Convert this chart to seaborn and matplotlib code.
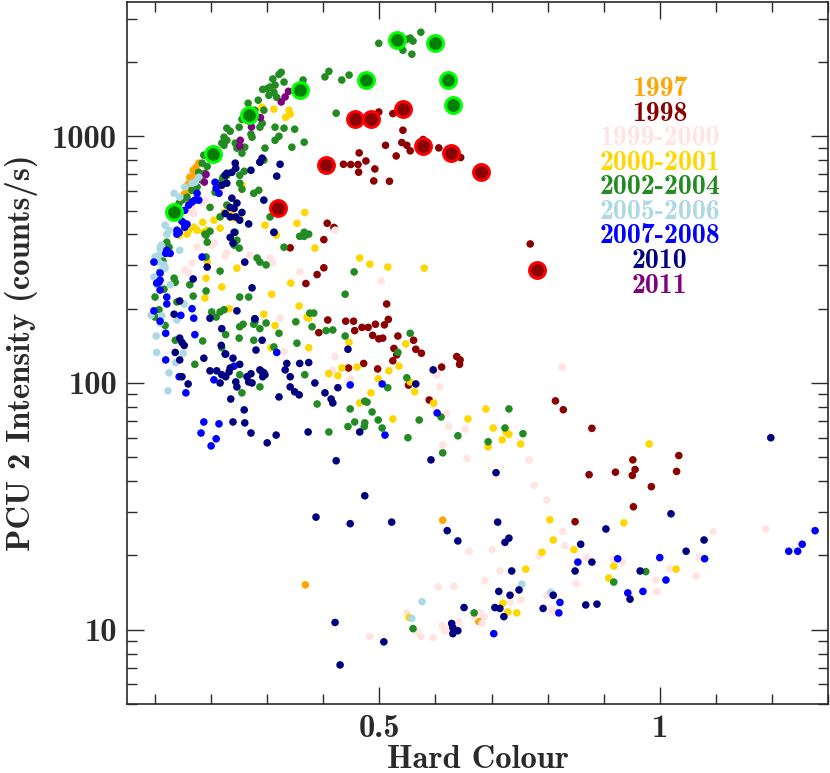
import numpy as np
import pandas as pd
import matplotlib
matplotlib.use('Agg')
import matplotlib.pyplot as plt
import matplotlib.ticker as mticker
import seaborn as sns

# ---- data: (hard colour, PCU2 intensity) ----
periods = ['1997', '1998', '1999-2000', '2000-2001', '2002-2004',
           '2005-2006', '2007-2008', '2010', '2011']
colours = ['orange', 'darkred', 'mistyrose', 'gold', 'forestgreen',
           'lightblue', 'blue', 'navy', 'purple']

hc_1997 = [0.178, 0.173, 0.168, 0.171, 0.162, 0.166, 0.159, 0.155, 0.161, 0.152, 0.157,
           0.613, 0.368, 0.677]
in_1997 = [778, 748, 728, 702, 682, 657, 639, 616, 598, 582, 555,
           27.8, 15.2, 10.8]

hc_1998 = [0.436, 0.449, 0.462, 0.476, 0.464, 0.463, 0.407, 0.419, 0.401,
           0.499, 0.524, 0.542, 0.511, 0.540, 0.549, 0.555, 0.530, 0.606, 0.645, 0.492,
           0.490, 0.518, 0.578,
           0.341, 0.401, 0.389, 0.369, 0.408, 0.440, 0.454, 0.456, 0.469, 0.392, 0.445, 0.472,
           0.769, 0.513, 0.516, 0.480, 0.493, 0.509, 0.488, 0.499, 0.506, 0.533, 0.561,
           0.526, 0.531, 0.565, 0.575, 0.552, 0.524, 0.497, 0.611, 0.638, 0.644, 0.643,
           0.589, 0.814, 0.828, 0.879,
           1.034, 1.030, 0.952, 0.956, 0.951, 0.921, 0.874, 0.985, 0.953, 0.849]
in_1998 = [770, 768, 768, 794, 856, 715, 444, 427, 381,
           1254, 1235, 1058, 919, 943, 919, 873, 832, 897, 820, 737,
           659, 657, 970,
           353, 293, 275, 253, 180, 178, 178, 163, 168, 160, 115, 120,
           366, 209, 181, 168, 173, 172, 156, 151, 152, 155, 149,
           138, 130, 137, 132, 98, 123, 114, 116, 128, 124, 119,
           85.3, 84.6, 77.9, 65.5,
           50.8, 43.8, 48.8, 44.6, 42.2, 43.5, 42.5, 38.0, 31.5, 27.4]

hc_1999 = [0.210, 0.219, 0.189, 0.184, 0.166, 0.162, 0.169, 0.205, 0.228, 0.269,
           0.305, 0.259, 0.175, 0.160, 0.201, 0.225, 0.310, 0.358, 0.166, 0.153,
           0.323, 0.330, 0.421, 0.417, 0.449, 0.410, 0.421, 0.503, 0.603, 0.608,
           0.596, 0.619, 0.624, 0.653, 0.613, 0.656, 0.767, 0.826, 0.776, 0.799,
           0.827, 0.831, 0.785, 0.870, 0.918, 0.933, 0.733, 0.688, 0.701, 0.715,
           0.752, 0.799, 0.811, 0.808, 0.813, 0.851, 0.993, 0.995, 1.018, 1.065,
           1.070, 1.095, 1.189, 0.679, 0.687, 0.683, 0.660, 0.605, 0.633, 0.549,
           0.567, 0.574, 0.612, 0.617, 0.626, 0.596, 0.483, 0.642, 0.669]
in_1999 = [623, 604, 551, 536, 510, 491, 486, 369, 338, 330,
           321, 306, 355, 279, 362, 327, 306, 282, 306, 287,
           183, 134, 128, 113, 104, 110, 416, 259, 108, 96.4,
           81.5, 75.0, 66.6, 65.1, 56.1, 49.3, 48.8, 116, 38.5, 33.6,
           25.0, 21.9, 19.9, 19.6, 19.4, 18.8, 12.9, 15.8, 21.1, 17.3,
           13.2, 13.8, 13.7, 12.0, 11.7, 15.4, 15.9, 14.3, 17.7, 16.5,
           19.6, 25.0, 25.6, 11.7, 11.3, 10.6, 20.8, 14.9, 15.0, 11.7,
           9.83, 9.39, 10.4, 9.91, 10.2, 9.30, 9.39, 10.8, 11.3]

hc_2000 = [0.291, 0.312, 0.339, 0.341, 0.333, 0.255, 0.223, 0.205, 0.185, 0.169,
           0.175, 0.153, 0.143, 0.187, 0.367, 0.353, 0.296, 0.237, 0.251, 0.234,
           0.241, 0.160, 0.157, 0.143, 0.216, 0.193, 0.316, 0.191, 0.246, 0.219,
           0.193, 0.385, 0.465, 0.189, 0.308, 0.342, 0.357, 0.371, 0.374, 0.294,
           0.232, 0.314, 0.307, 0.374, 0.446, 0.433, 0.460, 0.426, 0.410, 0.465,
           0.483, 0.515, 0.580, 0.547, 0.535, 0.517, 0.498, 0.555, 0.563, 0.485,
           0.597, 0.524, 0.658, 0.690, 0.703, 0.719, 0.726, 0.731, 0.694, 0.752,
           0.981, 0.804, 0.810, 0.790, 0.847, 0.936, 0.761, 0.918, 0.909, 1.029,
           0.720, 0.729, 0.745, 0.553]
in_2000 = [1311, 1287, 1275, 1229, 1194, 633, 491, 457, 448, 428,
           416, 424, 408, 408, 491, 444, 436, 501, 466, 491,
           466, 416, 401, 397, 424, 416, 397, 266, 292, 245,
           309, 352, 321, 221, 229, 254, 205, 185, 183, 190,
           200, 171, 139, 139, 146, 115, 116, 107, 109, 83.0,
           303, 295, 292, 144, 117, 112, 104, 101, 92.1, 91.2,
           83.0, 71.5, 71.5, 78.5, 65.7, 58.8, 63.3, 61.9, 55.1, 56.6,
           56.6, 27.9, 23.1, 20.6, 21.1, 27.1, 17.6, 18.1, 16.2, 17.6,
           12.8, 11.8, 11.7, 11.2]

hc_2002 = [0.325, 0.321, 0.310, 0.330, 0.314, 0.305, 0.300, 0.292, 0.312, 0.303,
           0.317, 0.284, 0.364, 0.360, 0.410, 0.403, 0.433, 0.446, 0.423, 0.266,
           0.278, 0.294, 0.278, 0.255, 0.250, 0.228, 0.234, 0.291, 0.287, 0.314,
           0.330, 0.321, 0.314, 0.349, 0.271, 0.273, 0.223, 0.228, 0.219, 0.243,
           0.246, 0.260, 0.255, 0.296, 0.344, 0.366, 0.294, 0.287, 0.193, 0.189,
           0.184, 0.175, 0.166, 0.157, 0.148, 0.143, 0.259, 0.251, 0.221, 0.219,
           0.255, 0.285, 0.276, 0.198, 0.228, 0.305, 0.312, 0.358, 0.366,
           0.191, 0.198, 0.243, 0.241, 0.330, 0.366, 0.374, 0.287, 0.298, 0.216,
           0.191, 0.162, 0.191, 0.168, 0.251, 0.267, 0.201, 0.209, 0.216, 0.223,
           0.251, 0.257, 0.276, 0.278, 0.226, 0.250, 0.287, 0.298, 0.321, 0.351,
           0.376, 0.383, 0.380, 0.405, 0.417, 0.439, 0.353, 0.276, 0.312, 0.185,
           0.219, 0.136, 0.171, 0.251, 0.255, 0.287, 0.367, 0.389, 0.410, 0.444,
           0.456, 0.474, 0.473, 0.448, 0.474, 0.439, 0.455,
           0.121, 0.125, 0.114, 0.109, 0.134, 0.136, 0.116, 0.100, 0.139, 0.107,
           0.100, 0.118,
           0.555, 0.533, 0.549, 0.515, 0.478, 0.487, 0.498, 0.505, 0.551, 0.571,
           0.610, 0.613, 0.640, 0.724, 0.731, 0.756, 0.694, 0.975, 0.918, 0.560,
           0.669,
           0.499, 0.555, 0.560, 0.549, 0.574, 0.542, 0.558,
           0.187, 0.184, 0.178, 0.223, 0.228, 0.225, 0.207, 0.216, 0.189, 0.193,
           0.246, 0.282, 0.250, 0.251]
in_2002 = [1815, 1780, 1706, 1658, 1612, 1583, 1560, 1548, 1506, 1465,
           1438, 1400, 1690, 1612, 1833, 1740, 1690, 1770, 1240, 1361,
           1275, 1275, 1204, 1171, 1088, 1078, 1048, 1128, 1088, 1088,
           1078, 1000, 963, 1068, 1020, 991, 991, 963, 938, 938,
           895, 903, 854, 895, 903, 946, 800, 785, 755, 708,
           663, 623, 604, 566, 551, 536, 721, 695, 682, 657,
           610, 604, 587, 515, 526, 471, 408, 393, 408,
           397, 412, 408, 362, 355, 393, 401, 309, 301, 284,
           324, 250, 236, 225, 223, 223, 194, 185, 194, 198,
           169, 173, 173, 177, 157, 152, 166, 175, 159, 177,
           192, 192, 169, 163, 164, 155, 145, 149, 140, 148,
           139, 149, 119, 108, 91.2, 96.4, 108, 82.2, 63.3, 66.6,
           69.5, 68.9, 66.6, 78.5, 84.4, 229, 282,
           372, 355, 312, 282, 266, 256, 240, 223, 213, 198,
           185, 171,
           159, 133, 105, 95.7, 83.6, 76.3, 70.8, 65.7, 60.0, 70.8,
           72.8, 52.1, 61.1, 65.7, 78.5, 62.3, 57.8, 17.2, 15.6, 10.1,
           11.7,
           2380, 2500, 2430, 2470, 2640, 2230, 2150,
           838, 778, 714, 919, 695, 651, 593, 471, 401, 372,
           379, 321, 352, 645]

hc_2005 = [0.134, 0.144, 0.153, 0.171, 0.178, 0.166, 0.118, 0.125, 0.109, 0.107,
           0.100, 0.116, 0.118, 0.098, 0.144, 0.121, 0.111, 0.107, 0.112, 0.103,
           0.127, 0.093, 0.112, 0.109, 0.102, 0.139, 0.152, 0.150, 0.137, 0.125,
           0.123, 0.103, 0.576, 0.558, 0.754, 0.806]
in_2005 = [587, 566, 623, 651, 682, 645, 436, 416, 352, 330,
           324, 301, 292, 269, 345, 401, 362, 309, 287, 250,
           250, 188, 187, 175, 155, 180, 209, 132, 121, 110,
           92.9, 133, 13.0, 11.1, 15.3, 14.2]

hc_2007 = [0.152, 0.160, 0.166, 0.175, 0.178, 0.207, 0.209, 0.214, 0.143, 0.153,
           0.144, 0.171, 0.153, 0.148, 0.157, 0.184, 0.121, 0.127, 0.103, 0.109,
           0.139, 0.139, 0.119, 0.098, 0.109, 0.107, 0.109, 0.121, 0.121, 0.098,
           0.109, 0.119, 0.166, 0.169, 0.171, 0.146, 0.119, 0.143, 0.155, 0.205,
           0.226, 0.241, 0.278, 0.317, 0.187, 0.182, 0.214, 0.209, 0.200, 0.448,
           0.505, 0.603, 0.510, 0.854, 0.822, 0.820, 0.925, 0.943, 0.970, 1.000,
           1.011, 1.080, 1.230, 1.246, 1.254, 1.277, 0.704]
in_2007 = [444, 526, 541, 587, 551, 651, 616, 587, 408, 428,
           486, 551, 501, 452, 440, 324, 345, 335, 254, 261,
           401, 416, 335, 309, 279, 256, 238, 223, 209, 196,
           178, 159, 200, 183, 157, 188, 124, 106, 91.2, 103,
           131, 117, 182, 133, 69.5, 62.7, 68.3, 59.4, 55.6, 98.2,
           99.1, 75.6, 61.5, 18.8, 12.9, 11.7, 19.4, 14.1, 14.3, 19.6,
           15.9, 19.4, 20.8, 20.8, 22.2, 25.2, 9.64]

hc_2010 = [0.291, 0.287, 0.323, 0.317, 0.243, 0.237, 0.228, 0.244, 0.225, 0.271,
           0.228, 0.219, 0.294, 0.237, 0.246, 0.234, 0.241, 0.255, 0.225, 0.234,
           0.244, 0.251, 0.267, 0.241, 0.312,
           0.239, 0.234, 0.260, 0.193, 0.168, 0.273, 0.144, 0.134, 0.198, 0.246,
           0.219, 0.278, 0.291, 0.144, 0.148, 0.152, 0.136, 0.144, 0.187, 0.218,
           0.239, 0.251, 0.225, 0.280, 0.198, 0.210, 0.219, 0.226, 0.216, 0.232,
           0.234, 0.246, 0.244, 0.264, 0.267, 0.271, 0.273, 0.287, 0.291, 0.294,
           0.296, 0.292, 0.332, 0.335, 0.341, 0.341, 0.349, 0.357, 0.358, 0.374,
           0.321, 0.235, 0.148, 0.159, 0.259, 0.385, 0.403, 0.414, 0.417, 0.426,
           0.444, 0.465, 0.373, 0.316, 0.300, 0.271, 0.260, 0.239, 0.423,
           0.708, 0.711, 0.724, 0.731, 0.736, 0.713, 0.733, 0.706, 0.715, 0.722,
           0.749, 0.792, 0.810, 0.849, 0.859, 0.879, 0.904, 0.868, 0.888, 0.947,
           0.965, 1.020, 1.047, 1.079, 1.198,
           0.592, 0.474, 0.387, 0.448, 0.522, 0.621, 0.640, 0.651, 0.629, 0.640,
           0.631, 0.631, 0.421, 0.508, 0.430, 0.596, 0.565]
in_2010 = [815, 785, 770, 689, 778, 714, 708, 742, 695, 728,
           645, 633, 551, 561, 536, 515, 510, 491, 486, 471,
           471, 457, 441, 408, 408,
           369, 389, 309, 295, 264, 243, 215, 190, 183, 196,
           166, 182, 149, 152, 146, 142, 133, 124, 126, 142,
           126, 119, 131, 136, 112, 112, 108, 106, 100, 111,
           115, 96.4, 101, 106, 101, 109, 100, 113, 111, 110,
           108, 106, 113, 120, 106, 96.4, 92.1, 89.5, 120, 121,
           87.8, 86.1, 106, 99.1, 77.8, 100, 91.2, 86.1, 83.0, 95.7,
           137, 63.3, 63.3, 61.5, 57.2, 62.7, 68.9, 69.5, 48.4,
           43.3, 27.3, 22.6, 23.5, 17.3, 14.3, 13.8, 12.3, 12.2, 11.3,
           14.5, 12.2, 13.8, 17.3, 22.2, 18.8, 25.6, 12.6, 12.7, 13.3,
           17.3, 29.5, 20.8, 23.1, 60.0,
           48.8, 34.9, 28.6, 26.9, 27.3, 25.2, 22.9, 12.3, 10.6, 9.91,
           9.64, 10.2, 10.7, 8.93, 7.2, 113, 99.1]

hc_2011 = [0.338, 0.332, 0.325, 0.288, 0.272, 0.252, 0.251, 0.191, 0.188]
in_2011 = [1521, 1443, 1377, 1190, 1090, 963, 911, 700, 652]

# highlighted observations (big circles)
hc_green_big = [0.133, 0.203, 0.268, 0.358, 0.477, 0.531, 0.599, 0.623, 0.632]
in_green_big = [495, 845, 1216, 1535, 1687, 2448, 2388, 1698, 1344]
hc_red_big = [0.320, 0.405, 0.456, 0.485, 0.543, 0.578, 0.627, 0.681, 0.781]
in_red_big = [513, 768, 1172, 1179, 1295, 911, 856, 717, 288]

hcs = [hc_1997, hc_1998, hc_1999, hc_2000, hc_2002, hc_2005, hc_2007, hc_2010, hc_2011]
ins = [in_1997, in_1998, in_1999, in_2000, in_2002, in_2005, in_2007, in_2010, in_2011]

df = pd.concat([pd.DataFrame({'hc': h, 'rate': r, 'period': p})
                for h, r, p in zip(hcs, ins, periods)], ignore_index=True)
big_g = pd.DataFrame({'hc': hc_green_big, 'rate': in_green_big})
big_r = pd.DataFrame({'hc': hc_red_big, 'rate': in_red_big})

sns.set_theme(style='ticks')
plt.rcParams['font.family'] = ['cmb10', 'DejaVu Serif']
plt.rcParams['axes.unicode_minus'] = False

FS = 23.5
INK = '#2a2a2a'

fig = plt.figure(figsize=(8.3, 7.73), dpi=100)
ax = fig.add_axes([127 / 830, 1 - 704 / 773, 701 / 830, 702 / 773])

sns.scatterplot(data=df, x='hc', y='rate', hue='period', hue_order=periods,
                palette=dict(zip(periods, colours)), s=30, linewidth=0,
                legend=False, ax=ax)
sns.scatterplot(data=big_g, x='hc', y='rate', s=130, color='green',
                edgecolor='lime', linewidth=2.2, ax=ax, zorder=3)
sns.scatterplot(data=big_r, x='hc', y='rate', s=130, color='darkred',
                edgecolor='red', linewidth=2.2, ax=ax, zorder=3)

ax.set_yscale('log')
ax.set_xlim(0.05, 1.3)
ax.set_ylim(5, 3500)
ax.xaxis.set_major_locator(mticker.FixedLocator([0.5, 1.0]))
ax.xaxis.set_minor_locator(mticker.MultipleLocator(0.1))
ax.xaxis.set_major_formatter(mticker.FuncFormatter(lambda v, p: '%g' % v))
ax.yaxis.set_major_locator(mticker.FixedLocator([10, 100, 1000]))
ax.yaxis.set_major_formatter(mticker.FuncFormatter(lambda v, p: '%g' % v))
ax.yaxis.set_minor_formatter(mticker.NullFormatter())
ax.tick_params(which='both', direction='in', top=True, right=True,
               labelsize=FS, width=1.0, colors=INK)
ax.tick_params(which='major', length=12, pad=7)
ax.tick_params(which='minor', length=7)
for sp in ax.spines.values():
    sp.set_linewidth(1.2)
    sp.set_color(INK)

ax.set_xlabel('Hard Colour', fontsize=FS, color=INK, labelpad=2)
ax.set_ylabel('PCU 2 Intensity (counts/s)', fontsize=FS, color=INK, labelpad=10)

# year labels stacked as a coloured text key
for i, (p, c) in enumerate(zip(periods, colours)):
    ax.text(0.760, 0.866 - i * 0.035, p, color=c, fontsize=20,
            ha='center', va='baseline', transform=ax.transAxes)

fig.savefig('out.png', dpi=100)
